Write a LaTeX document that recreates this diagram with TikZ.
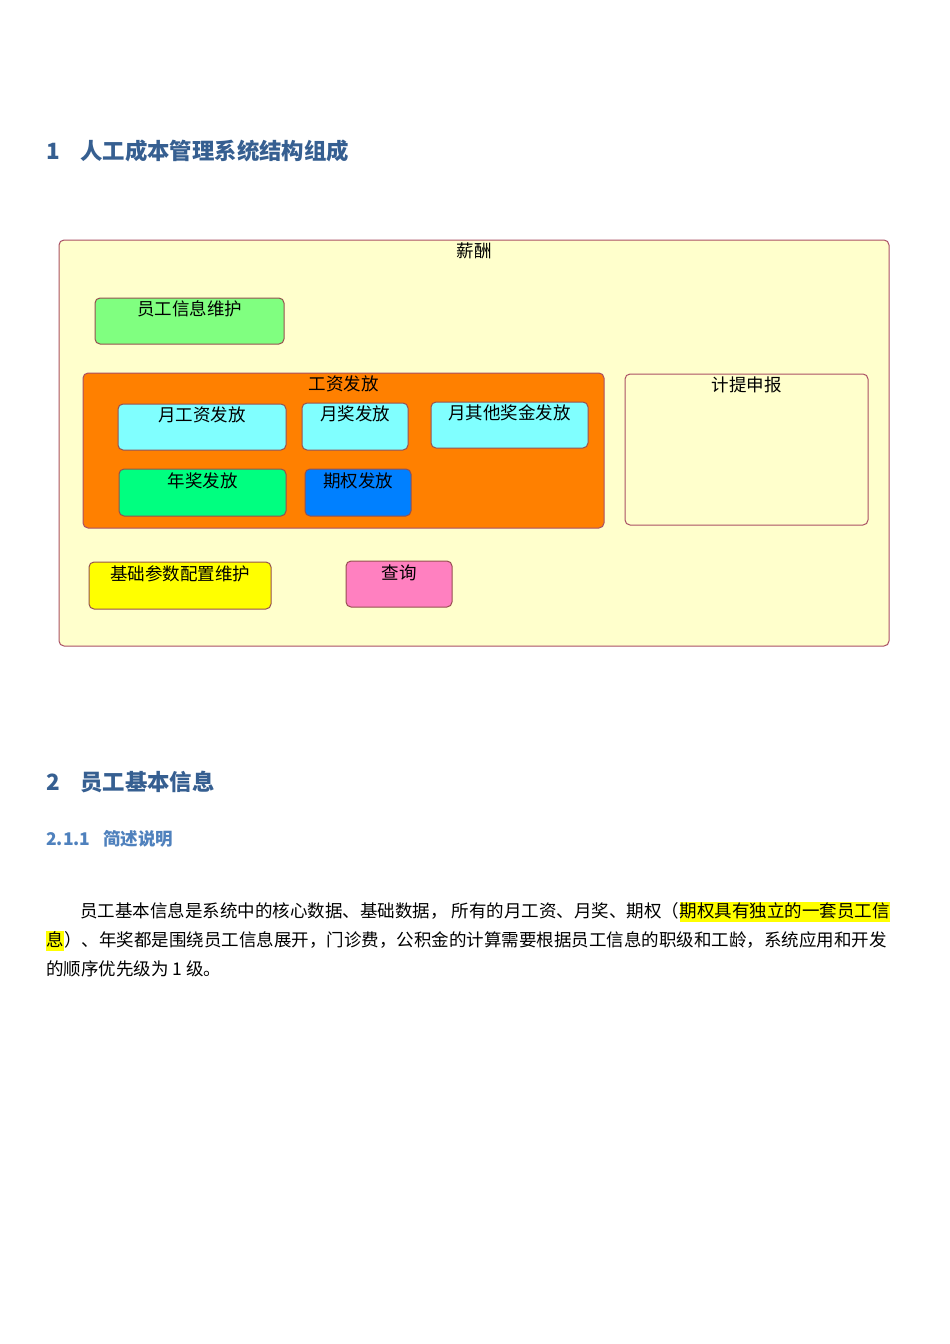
\documentclass[tikz,border=0pt]{standalone}
\usepackage{fontspec}
\setmainfont{Noto Sans CJK SC}
\newfontfamily\cjk{Noto Sans CJK SC}
\definecolor{headblue}{RGB}{54,95,145}
\definecolor{subblue}{RGB}{79,129,189}
\definecolor{outerfill}{RGB}{255,255,204}
\definecolor{outerborder}{RGB}{170,80,100}
\definecolor{innerborder}{RGB}{150,80,80}
\definecolor{cgreen}{RGB}{128,255,128}
\definecolor{corange}{RGB}{255,128,0}
\definecolor{ccyan}{RGB}{128,255,255}
\definecolor{cmint}{RGB}{0,255,128}
\definecolor{cblue}{RGB}{0,128,255}
\definecolor{cyellow}{RGB}{255,255,0}
\definecolor{cpink}{RGB}{255,128,192}
\tikzset{
  boxbase/.style={draw, line width=1pt, rounded corners=5pt, inner sep=0pt, outer sep=0pt},
  bigbox/.style={boxbase, draw=outerborder},
  smallbox/.style={boxbase, draw=innerborder},
  lbl/.style={inner sep=0pt, font=\cjk\fontsize{17.5}{20}\selectfont, text=black},
  h1/.style={inner sep=0pt, anchor=base west, font=\cjk\bfseries\fontsize{22.4}{26}\selectfont, text=headblue},
  h3/.style={inner sep=0pt, anchor=base west, font=\cjk\bfseries\fontsize{17.5}{20}\selectfont, text=subblue},
  body/.style={inner sep=0pt, anchor=base west, font=\cjk\fontsize{17.5}{21}\selectfont, text=black},
  hl/.style={body, fill=cyellow, text height=15pt, text depth=5pt}
}
\begin{document}
\begin{tikzpicture}[x=1pt,y=-1pt]
\useasboundingbox (0,0) rectangle (950,1344);
\fill[white] (0,0) rectangle (950,1344);

% headings
\node[h1] (n1) at (46,159) {1};
\node[h1] (t1) at (80,159) {人工成本管理系统结构组成};

% outer box
\draw[bigbox, fill=outerfill] (59,240) rectangle (889,646);
\node[lbl] (outerlbl) at (474,251) {薪酬};

% boxes
\draw[smallbox, fill=cgreen] (95,298) rectangle (284,344);
\node[lbl] (yg) at (189.5,309) {员工信息维护};

\draw[bigbox, fill=corange] (83,373) rectangle (604,528);
\node[lbl] (gz) at (343.5,384) {工资发放};

\draw[smallbox, fill=ccyan] (118,404) rectangle (286,450);
\node[lbl] (ygz) at (202,415) {月工资发放};
\draw[smallbox, fill=ccyan] (302,403) rectangle (408,450);
\node[lbl] (yj) at (355,414) {月奖发放};
\draw[smallbox, fill=ccyan] (431,402) rectangle (588,448);
\node[lbl] (yqt) at (509.5,413) {月其他奖金发放};

\draw[smallbox, fill=cmint] (119,469) rectangle (286,516);
\node[lbl] (nj) at (202.5,481) {年奖发放};
\draw[smallbox, fill=cblue] (305,469) rectangle (411,516);
\node[lbl] (qq) at (358,481) {期权发放};

\draw[bigbox, fill=outerfill] (625,374) rectangle (868,525);
\node[lbl] (jt) at (746.5,385) {计提申报};

\draw[smallbox, fill=cyellow] (89,562) rectangle (271,609);
\node[lbl] (jc) at (180,574) {基础参数配置维护};
\draw[smallbox, fill=cpink] (346,561) rectangle (452,607);
\node[lbl] (cx) at (399,573) {查询};

% section 2
\node[h1] (n2) at (46,790) {2};
\node[h1] (t2) at (80,790) {员工基本信息};
\node[h3] (t3a) at (46,845) {2.1.1};
\node[h3] (t3b) at (103,845) {简述说明};

% body text
\node[body] (l1a) at (80,917) {员工基本信息是系统中的核心数据、基础数据， 所有的月工资、月奖、期权（};
\node[hl] (l1b) at (l1a.base east) {期权具有独立的一套员工信};
\node[hl] (l2a) at (46,946) {息};
\node[body] (l2b) at (l2a.base east) {）、年奖都是围绕员工信息展开，门诊费，公积金的计算需要根据员工信息的职级和工龄，系统应用和开发};
\node[body] (l3) at (46,975) {的顺序优先级为 1 级。};
\end{tikzpicture}
\end{document}
